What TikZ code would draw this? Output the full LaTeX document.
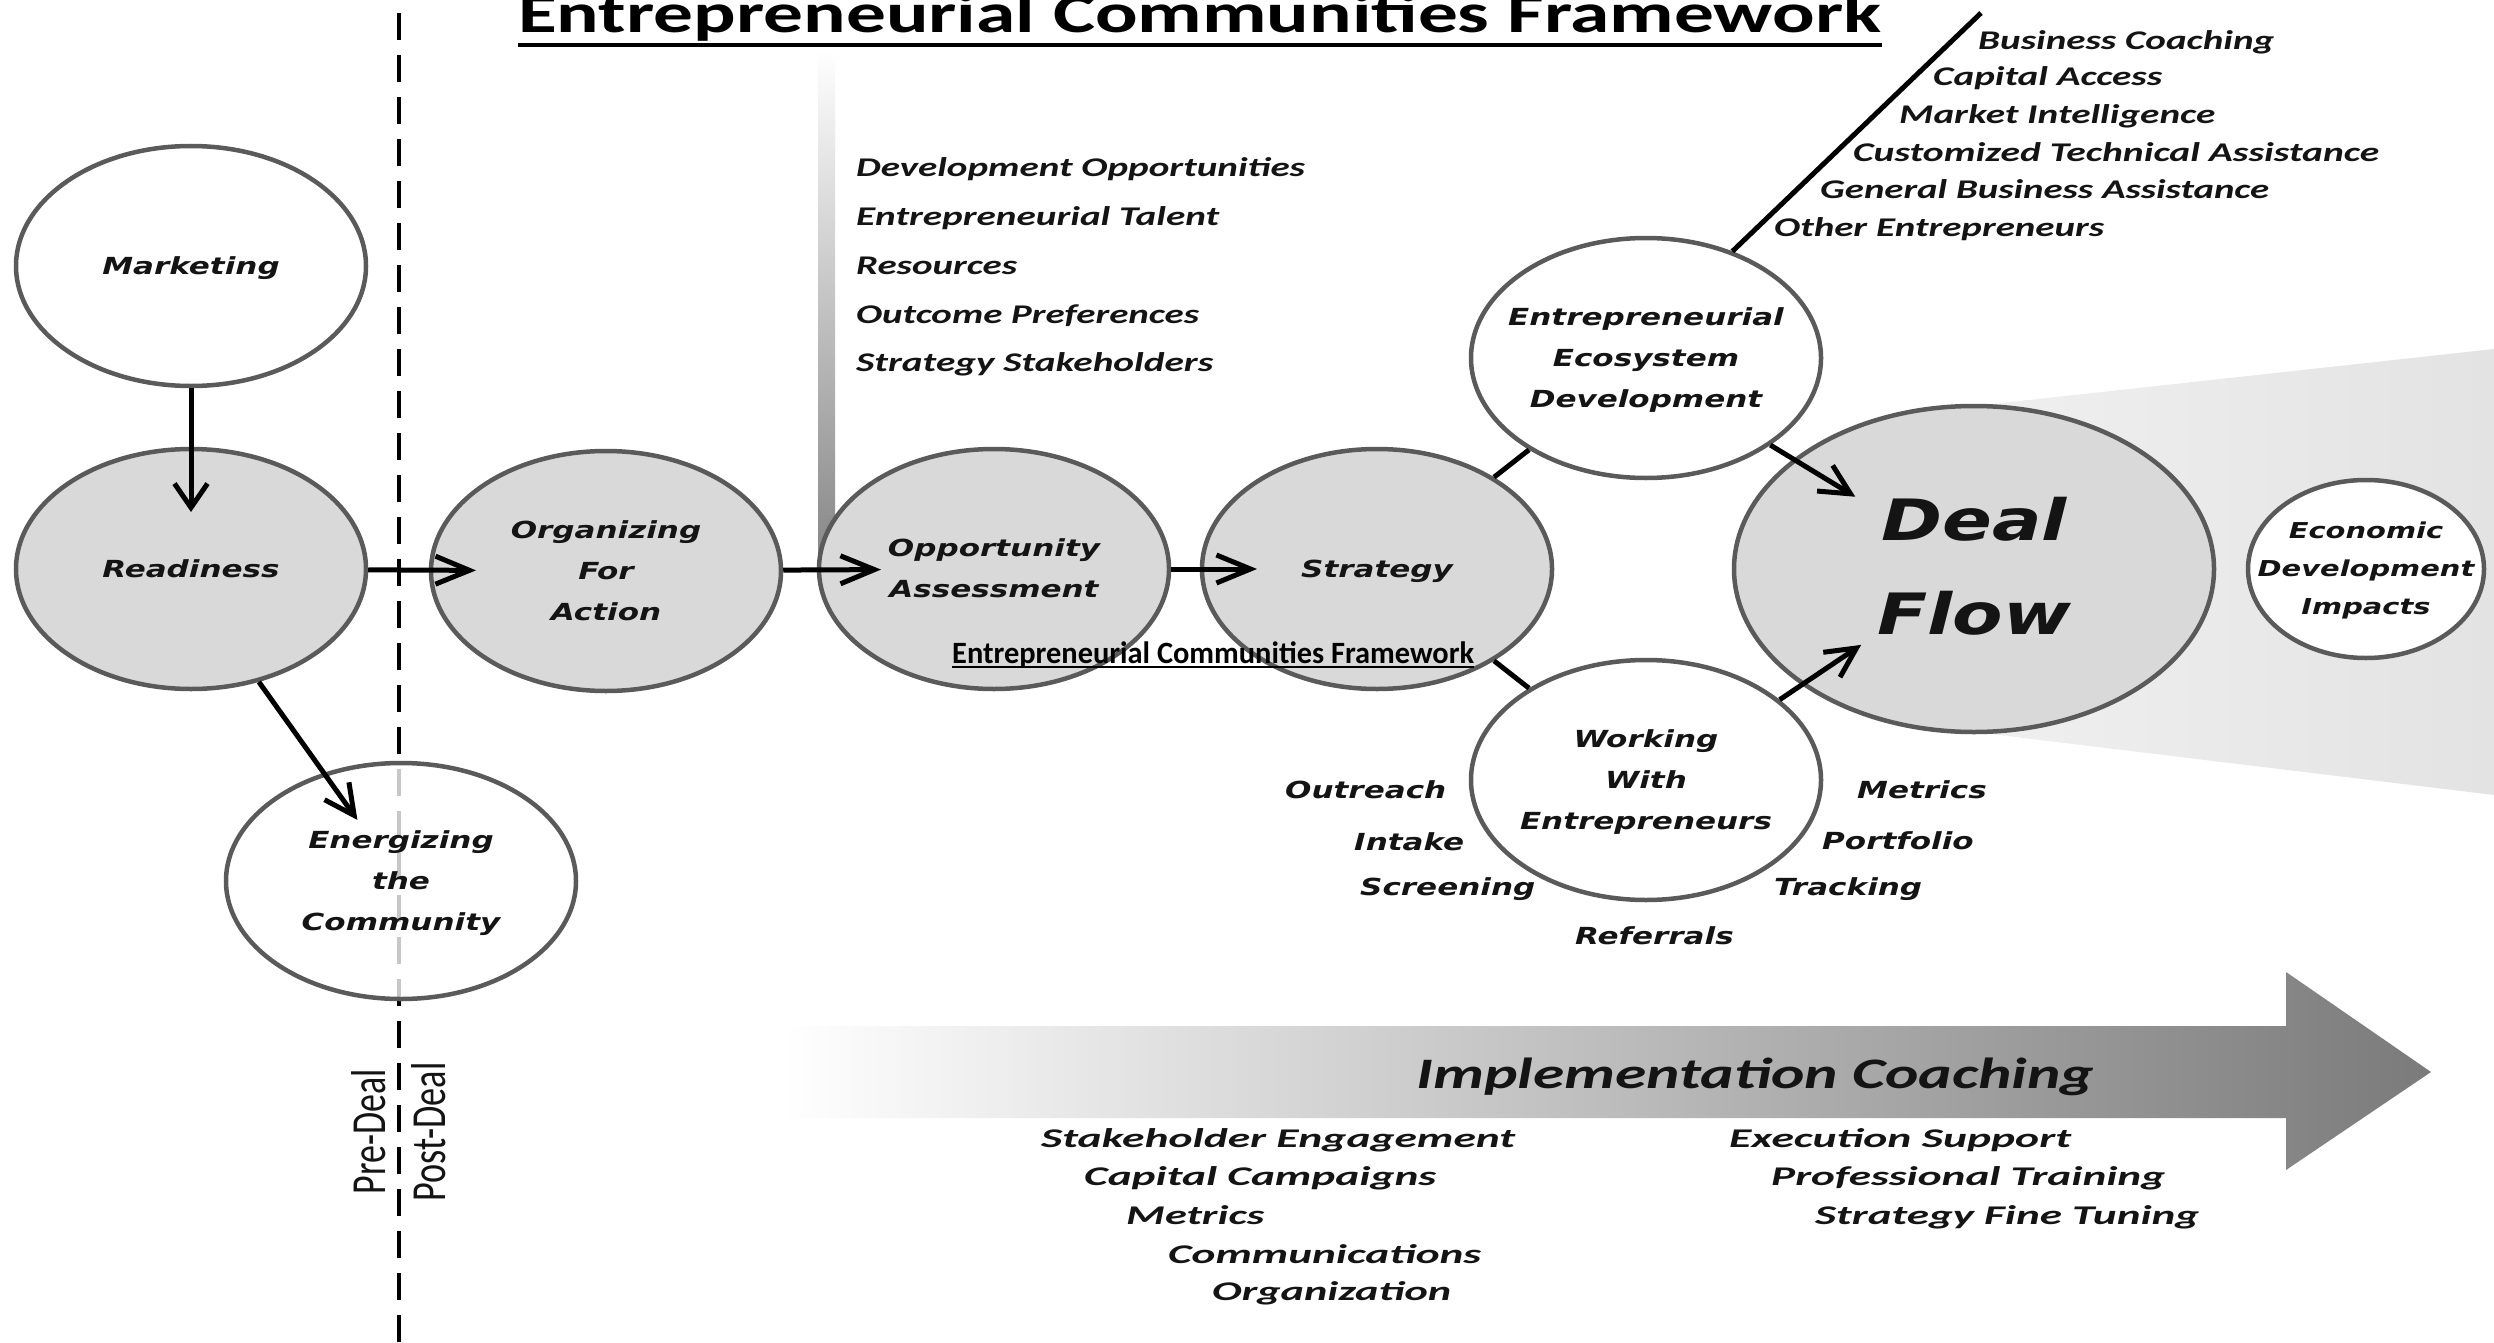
\documentclass[tikz,border=0pt]{standalone}
\usepackage{fontspec}
\usepackage{graphicx}
\usetikzlibrary{shapes.geometric,arrows.meta}
\newfontfamily\calfont{Carlito}
\newfontfamily\bubfont{DejaVu Sans}
\definecolor{rimgray}{HTML}{5A5A5A}
\definecolor{bubgray}{HTML}{D9D9D9}
\definecolor{ink}{HTML}{141414}
% stretch a text horizontally to a given width, keeping its height
\newcommand\fitw[2]{\resizebox{#1pt}{\height}{#2}}
% widened, centred stack of lines; zero width so the ellipse keeps its set size
\newcommand\widenby[2]{\makebox[0pt]{\scalebox{#1}[1]{\begin{tabular}{@{}c@{}}#2\end{tabular}}}}
\newcommand\widen[1]{\widenby{1.32}{#1}}

\tikzset{
  bubble/.style={ellipse, draw=rimgray, line width=4.5pt, inner sep=0pt,
    minimum width=350pt, minimum height=240pt, text=ink,
    font=\bubfont\bfseries\itshape\fontsize{23.5}{41}\selectfont},
  greybub/.style={bubble, fill=bubgray},
  whitebub/.style={bubble, fill=white},
  hflow/.style={line width=5pt, -{Straight Barb[length=34pt,width=28pt]}},
  vflow/.style={line width=5pt, -{Straight Barb[length=24pt,width=33pt]}},
  dflow/.style={line width=5pt, -{Straight Barb[length=30pt,width=30pt]}},
  link/.style={line width=5pt},
  listitem/.style={anchor=base west, inner sep=0pt, text=ink,
    font=\calfont\bfseries\itshape\fontsize{27}{30}\selectfont},
  sidelabel/.style={anchor=base west, inner sep=0pt, text=ink,
    font=\bubfont\bfseries\itshape\fontsize{23.5}{28}\selectfont},
  phase/.style={rotate=90, anchor=base, inner sep=0pt, text=ink,
    font=\calfont\fontsize{36}{40}\selectfont},
}

\begin{document}
\begin{tikzpicture}[x=1pt,y=-1pt]
\fill[white] (0,0) rectangle (2494,1343);
\useasboundingbox (0,0) rectangle (2494,1343);

% light halo fanning out of the deal flow
\shade[left color=black!6, right color=black!11]
  (1974,406) -- (2494,349) -- (2494,795) -- (1974,732) -- cycle;

% graded bar above the opportunity assessment
\shade[top color=white, bottom color=black!48] (818,50) rectangle (835,569);

% pre-deal / post-deal divider
\draw[line width=4.5pt, dash pattern=on 27pt off 15pt] (399,13) -- (399,1343);

% title
\node[anchor=base west, inner sep=0pt, text=black,
      font=\calfont\bfseries\fontsize{56}{60}\selectfont] (title) at (518,33)
  {\fitw{1363}{Entrepreneurial Communities Framework}};
\draw[line width=4.5pt] ([yshift=-12pt]title.base west) -- ([yshift=-12pt]title.base east);

% stages
\node[whitebub] (mkt) at (191,266) {\widen{Marketing}};
\node[greybub]  (rdy) at (191,569) {\widen{Readiness}};
\node[greybub]  (org) at (606,571) {\widen{Organizing\\For\\Action}};
\node[whitebub, fill opacity=0.78, text opacity=1, minimum height=236pt] (ene) at (401,881)
  {\widen{Energizing\\the\\Community}};
\node[greybub]  (opp) at (994,569) {\widen{Opportunity\\Assessment}};
\node[greybub]  (str) at (1377,569) {\widen{Strategy}};
\node[whitebub] (eco) at (1646,358) {\widen{Entrepreneurial\\Ecosystem\\Development}};
\node[whitebub] (wwe) at (1646,780) {\widen{Working\\With\\Entrepreneurs}};
\node[greybub, minimum width=480pt, minimum height=326pt,
      font=\bubfont\bfseries\itshape\fontsize{57}{94}\selectfont] (deal) at (1974,569)
  {\widenby{1.29}{Deal\\Flow}};
\node[whitebub, minimum width=236pt, minimum height=178pt,
      font=\bubfont\bfseries\itshape\fontsize{21.9}{38}\selectfont] (edi) at (2366,569)
  {\widen{Economic\\Development\\Impacts}};

% flow between stages
\draw[vflow, shorten >=57pt]  (mkt) -- (rdy.center);
\draw[hflow, shorten >=130pt] (rdy) -- (org.center);
\draw[dflow, shorten >=75pt]  (rdy.-59) -- (ene.center);
\draw[hflow, shorten >=113pt] (org) -- (opp.center);
\draw[hflow, shorten >=120pt] (opp) -- (str.center);
\draw[link] (str) -- (eco);
\draw[link] (str) -- (wwe);
\draw[dflow, shorten >=139pt] (eco.-35) -- (deal.center);
\draw[dflow, shorten >=136pt] (wwe.31) -- (deal.center);
\coordinate (ecoend) at (1981,13);
\draw[link] (eco.51) -- (ecoend);

% small caption over the strategy row
\node[anchor=base west, inner sep=0pt, text=black,
      font=\calfont\bfseries\fontsize{31}{34}\selectfont] (caption) at (952,663)
  {\fitw{522}{Entrepreneurial Communities Framework}};
\draw[line width=2pt] ([yshift=-3.5pt]caption.base west) -- ([yshift=-3.5pt]caption.base east);

% opportunity assessment inputs
\node[listitem] (oa1) at (856,176) {\fitw{449}{Development Opportunities}};
\node[listitem] (oa2) at (856,225) {\fitw{363}{Entrepreneurial Talent}};
\node[listitem] (oa3) at (856,274) {\fitw{161}{Resources}};
\node[listitem] (oa4) at (856,323) {\fitw{343}{Outcome Preferences}};
\node[listitem] (oa5) at (856,371) {\fitw{357}{Strategy Stakeholders}};

% ecosystem services
\node[listitem] (es1) at (1978,50)  {\fitw{296}{Business Coaching}};
\node[listitem] (es2) at (1933,86)  {\fitw{229}{Capital Access}};
\node[listitem] (es3) at (1899,124) {\fitw{316}{Market Intelligence}};
\node[listitem] (es4) at (1853,162) {\fitw{526}{Customized Technical Assistance}};
\node[listitem] (es5) at (1820,199) {\fitw{449}{General Business Assistance}};
\node[listitem] (es6) at (1774,236) {\fitw{330}{Other Entrepreneurs}};

% working with entrepreneurs
\node[sidelabel] (we1) at (1285,798) {\scalebox{1.32}[1]{Outreach}};
\node[sidelabel] (we2) at (1354,850) {\scalebox{1.32}[1]{Intake}};
\node[sidelabel] (we3) at (1360,895) {\scalebox{1.32}[1]{Screening}};
\node[sidelabel] (we4) at (1575,944) {\scalebox{1.32}[1]{Referrals}};
\node[sidelabel] (we5) at (1857,798) {\scalebox{1.32}[1]{Metrics}};
\node[sidelabel] (we6) at (1822,849) {\scalebox{1.32}[1]{Portfolio}};
\node[sidelabel] (we7) at (1774,895) {\scalebox{1.32}[1]{Tracking}};

% phase labels on the divider
\node[phase] (pre)  at (385,1132) {\resizebox{125pt}{34pt}{Pre-Deal}};
\node[phase] (post) at (445,1132) {\resizebox{139pt}{34pt}{Post-Deal}};

% implementation coaching band
\shade[left color=white, right color=black!52]
  (783,1026) -- (2286,1026) -- (2286,972) -- (2431,1072) -- (2286,1170)
  -- (2286,1118) -- (783,1118) -- cycle;
\node[listitem, font=\calfont\bfseries\itshape\fontsize{43.5}{48}\selectfont] (impl) at (1416,1088)
  {\fitw{678}{Implementation Coaching}};

\node[listitem] (ic1) at (1041,1147) {\fitw{474}{Stakeholder Engagement}};
\node[listitem] (ic2) at (1084,1185) {\fitw{352}{Capital Campaigns}};
\node[listitem] (ic3) at (1126,1224) {\fitw{138}{Metrics}};
\node[listitem] (ic4) at (1168,1263) {\fitw{313}{Communications}};
\node[listitem] (ic5) at (1212,1300) {\fitw{239}{Organization}};
\node[listitem] (ic6) at (1729,1147) {\fitw{342}{Execution Support}};
\node[listitem] (ic7) at (1771,1185) {\fitw{394}{Professional Training}};
\node[listitem] (ic8) at (1815,1224) {\fitw{384}{Strategy Fine Tuning}};
\end{tikzpicture}
\end{document}
